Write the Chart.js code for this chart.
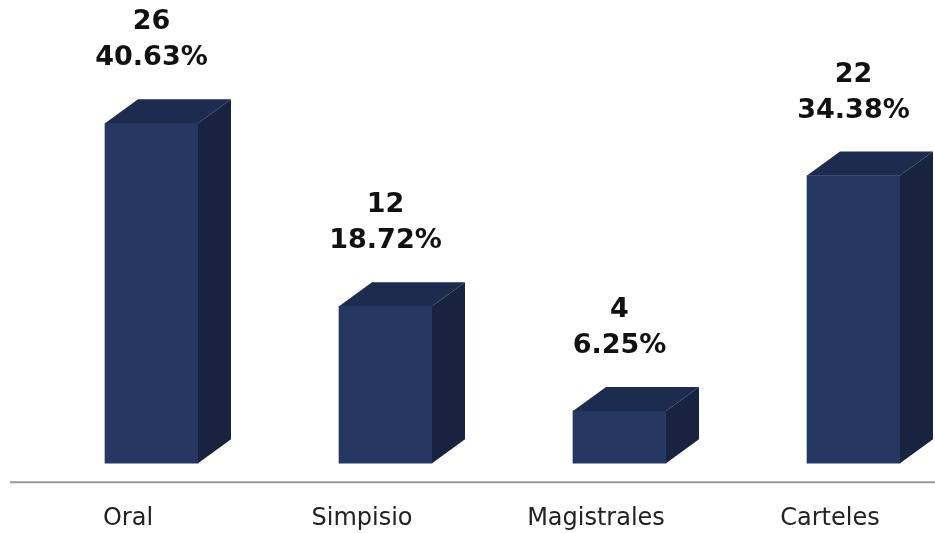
<!DOCTYPE html>
<html lang="es">
  <head>
    <meta charset="UTF-8" />
    <title>Tipos de presentación</title>
    <style>
      html, body { margin: 0; padding: 0; background: #fff; }
      .chart-container { width: 935px; height: 533px; }
    </style>
  </head>
  <body>
    <div class="chart-container">
      <canvas id="tipos-chart"></canvas>
    </div>

    <script src="https://cdn.jsdelivr.net/npm/chart.js"></script>
    <script>
      const categorias = ["Oral", "Simpisio", "Magistrales", "Carteles"];
      const cantidades = [26, 12, 4, 22];
      const porcentajes = ["40.63%", "18.72%", "6.25%", "34.38%"];

      const FRENTE = "#263761";
      const TAPA = "#1d2b4e";
      const LADO = "#18243f";
      const PROF_X = 33;
      const PROF_Y = 24;

      // caras de arriba y de lado para el efecto 3D
      const barras3d = {
        id: "barras3d",
        afterDatasetsDraw(chart) {
          const ctx = chart.ctx;
          const meta = chart.getDatasetMeta(0);
          ctx.save();
          meta.data.forEach((bar) => {
            const izq = bar.x - bar.width / 2;
            const der = bar.x + bar.width / 2;
            const arriba = bar.y;
            const base = bar.base;

            ctx.fillStyle = TAPA;
            ctx.beginPath();
            ctx.moveTo(izq, arriba);
            ctx.lineTo(izq + PROF_X, arriba - PROF_Y);
            ctx.lineTo(der + PROF_X, arriba - PROF_Y);
            ctx.lineTo(der, arriba);
            ctx.closePath();
            ctx.fill();

            ctx.fillStyle = LADO;
            ctx.beginPath();
            ctx.moveTo(der, arriba);
            ctx.lineTo(der + PROF_X, arriba - PROF_Y);
            ctx.lineTo(der + PROF_X, base - PROF_Y);
            ctx.lineTo(der, base);
            ctx.closePath();
            ctx.fill();
          });
          ctx.restore();
        },
      };

      // etiquetas de valor y porcentaje encima de cada barra
      const etiquetas = {
        id: "etiquetas",
        afterDraw(chart) {
          const ctx = chart.ctx;
          const meta = chart.getDatasetMeta(0);
          ctx.save();
          ctx.fillStyle = "#111111";
          ctx.textAlign = "center";
          ctx.textBaseline = "middle";
          ctx.font = "bold 27px 'DejaVu Sans'";
          meta.data.forEach((bar, i) => {
            const tope = bar.y - PROF_Y;
            ctx.fillText(String(cantidades[i]), bar.x, tope - 77);
            ctx.fillText(porcentajes[i], bar.x, tope - 41);
          });

          // linea del eje
          const y = chart.chartArea.bottom + 19;
          ctx.strokeStyle = "#9a9a9a";
          ctx.lineWidth = 2;
          ctx.beginPath();
          ctx.moveTo(10, y);
          ctx.lineTo(935, y);
          ctx.stroke();
          ctx.restore();
        },
      };

      new Chart(document.getElementById("tipos-chart"), {
        type: "bar",
        data: {
          labels: categorias,
          datasets: [
            {
              data: cantidades,
              backgroundColor: FRENTE,
              barThickness: 93,
              clip: false,
            },
          ],
        },
        options: {
          responsive: true,
          maintainAspectRatio: false,
          animation: false,
          layout: {
            padding: { top: 71, left: 151.5, right: 81.5, bottom: 0 },
          },
          scales: {
            x: {
              offset: false,
              grid: {
                display: true,
                drawOnChartArea: false,
                drawTicks: true,
                tickLength: 41,
                color: "rgba(0,0,0,0)",
              },
              border: { display: false },
              ticks: {
                padding: 0,
                labelOffset: -23.5,
                color: "#222222",
                font: { family: "'DejaVu Sans'", size: 24 },
              },
            },
            y: {
              display: false,
              min: 0,
              max: 30,
            },
          },
          plugins: {
            legend: { display: false },
            tooltip: { enabled: false },
          },
        },
        plugins: [barras3d, etiquetas],
      });
    </script>
  </body>
</html>
